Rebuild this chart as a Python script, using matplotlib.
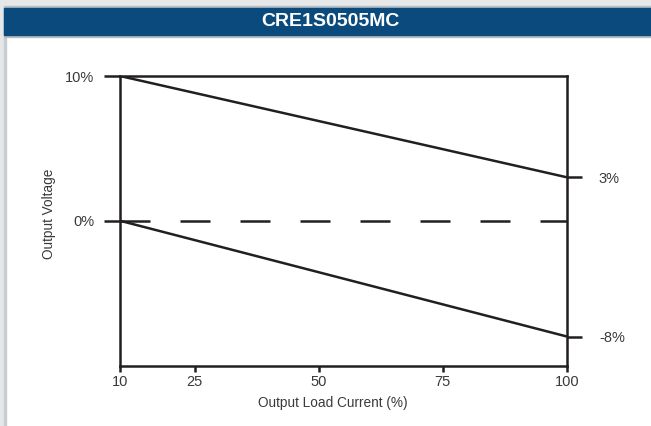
import matplotlib
matplotlib.use('Agg')
import matplotlib.pyplot as plt
from matplotlib.patches import Rectangle

plt.rcParams['font.family'] = ['Liberation Sans', 'DejaVu Sans']
plt.rcParams['lines.scale_dashes'] = False

title = 'CRE1S0505MC'
load = [10, 100]
upper = [10, 3]
lower = [0, -8]
nominal = [0, 0]
xticks = [10, 25, 50, 75, 100]
left_ticks = [10, 0]
left_labels = ['10%', '0%']
right_ticks = [3, -8]
right_labels = ['3%', '-8%']

ink = '#231f20'
txt = '#3a3a3a'
W, H = 651, 426

fig = plt.figure(figsize=(W / 100, H / 100), dpi=100)
fig.patch.set_facecolor('white')

# frame and header bar
fig.patches.append(Rectangle((0, 0), 4 / W, 1, transform=fig.transFigure,
                             color='#e6e7e8', zorder=0))
fig.patches.append(Rectangle((4 / W, 0), 1.5 / W, 1, transform=fig.transFigure,
                             color='#c9cdd1', zorder=0))
fig.patches.append(Rectangle((0, 1 - 6 / H), 1, 6 / H, transform=fig.transFigure,
                             color='#e6e7e8', zorder=0))
fig.patches.append(Rectangle((4 / W, 1 - 37 / H), 1, 31 / H, transform=fig.transFigure,
                             color='#b7bec4', zorder=0))
fig.patches.append(Rectangle((4 / W, 1 - 35 / H), 1, 27 / H, transform=fig.transFigure,
                             color='#0a4a7c', zorder=1))
fig.text(330 / W, 1 - 21 / H, title, color='white', fontsize=14, fontweight='bold',
         ha='center', va='center')

ax = fig.add_axes([120 / W, 1 - 365.5 / H, 447 / W, 289.5 / H])
ax.plot(load, upper, color=ink, lw=1.8, solid_capstyle='butt')
ax.plot(load, lower, color=ink, lw=1.8, solid_capstyle='butt')
ax.plot(load, nominal, color=ink, lw=1.8, dashes=(21.6, 21.6))
ax.set_xlim(10, 100)
ax.set_ylim(-10, 10)

for s in ax.spines.values():
    s.set_color(ink)
    s.set_linewidth(1.8)

ax.set_xticks(xticks)
ax.set_xticklabels([str(v) for v in xticks])
ax.tick_params(axis='x', direction='out', length=4.5, width=1.8, color=ink,
               labelsize=10.5, labelcolor=txt, pad=2)
ax.set_yticks(left_ticks)
ax.set_yticklabels(left_labels)
ax.tick_params(axis='y', direction='out', length=11.5, width=1.8, color=ink,
               labelsize=10.5, labelcolor=txt, pad=7)

ax2 = ax.twinx()
ax2.set_ylim(-10, 10)
ax2.set_yticks(right_ticks)
ax2.set_yticklabels(right_labels)
ax2.tick_params(axis='y', direction='out', length=11, width=1.8, color=ink,
                labelsize=10.5, labelcolor=txt, pad=12)
for s in ax2.spines.values():
    s.set_visible(False)

fig.text(333 / W, 1 - 403 / H, 'Output Load Current (%)', fontsize=9.8, color=txt,
         ha='center', va='center')
fig.text(49 / W, 1 - 214 / H, 'Output Voltage', fontsize=9.8, color=txt,
         ha='center', va='center', rotation=90)

fig.savefig('out.png', dpi=100)
